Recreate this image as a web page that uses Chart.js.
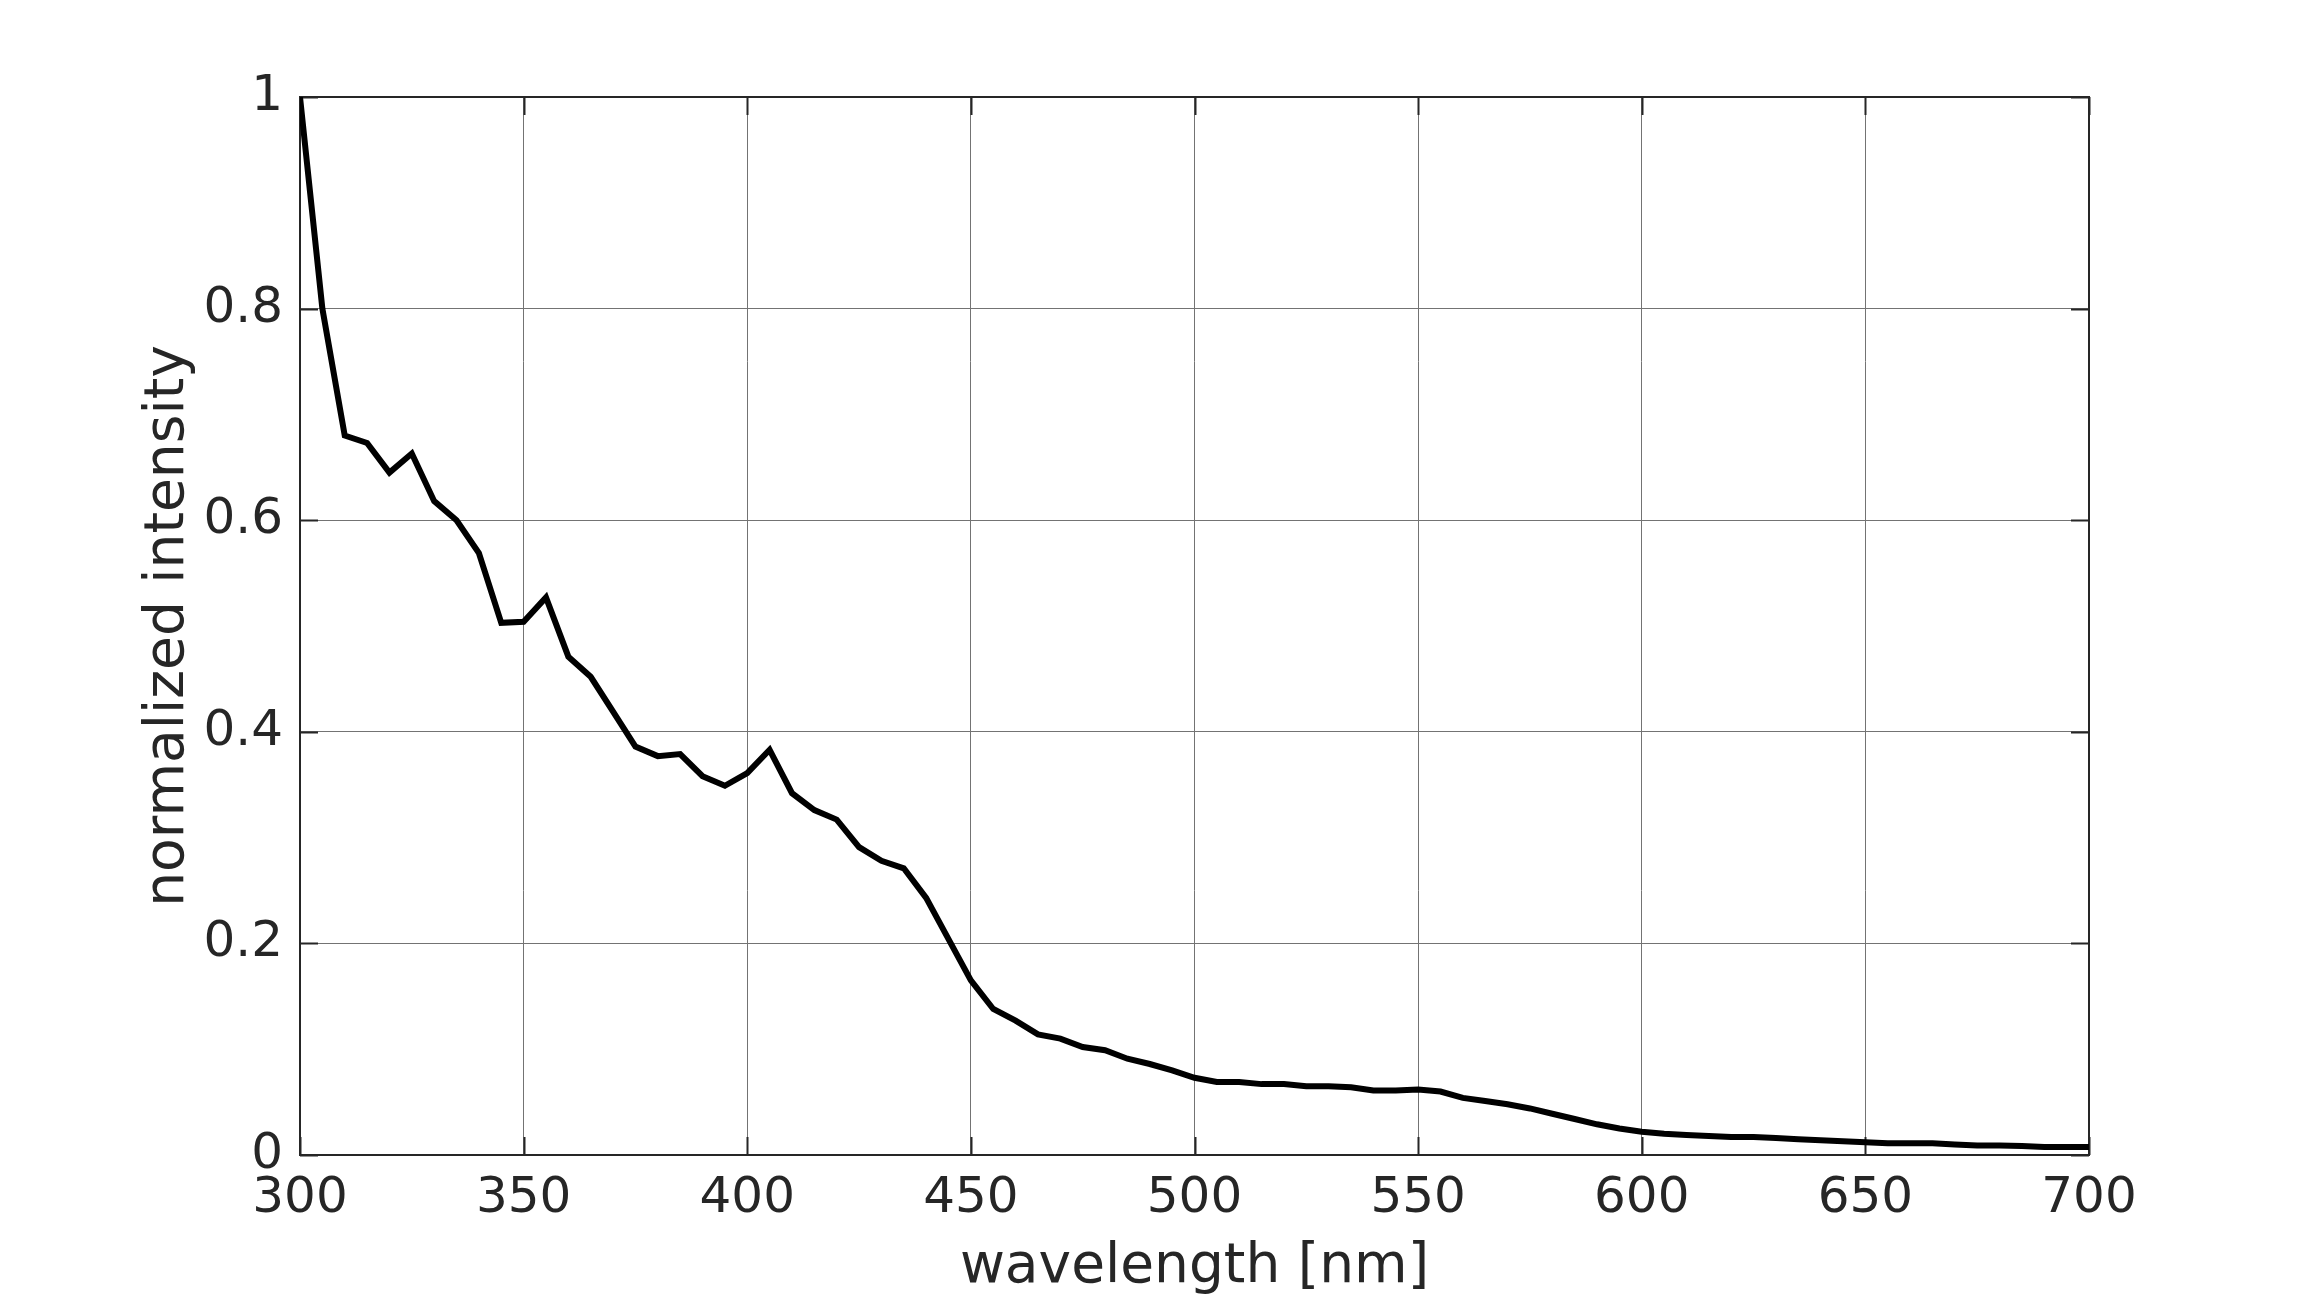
<!DOCTYPE html>
<html>
<head>
<meta charset="utf-8">
<script src="https://cdn.jsdelivr.net/npm/chart.js@4.4.1/dist/chart.umd.min.js"></script>
<style>
  html, body { margin: 0; padding: 0; background: #ffffff; }
  #c { display: block; }
</style>
</head>
<body>
<canvas id="c" width="2308" height="1298" style="width:2308px;height:1298px"></canvas>
<script>
// wavelength [nm]
const wavelengths = [
  300, 305, 310, 315, 320, 325, 330, 335, 340, 345,
  350, 355, 360, 365, 370, 375, 380, 385, 390, 395,
  400, 405, 410, 415, 420, 425, 430, 435, 440, 445,
  450, 455, 460, 465, 470, 475, 480, 485, 490, 495,
  500, 505, 510, 515, 520, 525, 530, 535, 540, 545,
  550, 555, 560, 565, 570, 575, 580, 585, 590, 595,
  600, 605, 610, 615, 620, 625, 630, 635, 640, 645,
  650, 655, 660, 665, 670, 675, 680, 685, 690, 695,
  700
];
// normalized intensity
const intensity = [
  1.000, 0.800, 0.680, 0.673, 0.645, 0.663, 0.618, 0.600, 0.569, 0.503,
  0.504, 0.527, 0.471, 0.452, 0.419, 0.386, 0.377, 0.379, 0.358, 0.349,
  0.361, 0.383, 0.342, 0.326, 0.317, 0.291, 0.278, 0.271, 0.243, 0.204,
  0.165, 0.138, 0.127, 0.114, 0.110, 0.102, 0.099, 0.091, 0.086, 0.080,
  0.073, 0.069, 0.069, 0.067, 0.067, 0.065, 0.065, 0.064, 0.061, 0.061,
  0.062, 0.060, 0.054, 0.051, 0.048, 0.044, 0.039, 0.034, 0.029, 0.025,
  0.022, 0.020, 0.019, 0.018, 0.017, 0.017, 0.016, 0.015, 0.014, 0.013,
  0.012, 0.011, 0.011, 0.011, 0.010, 0.009, 0.009, 0.0085, 0.0075, 0.0075,
  0.0075
];
const xTickValues = [300, 350, 400, 450, 500, 550, 600, 650, 700];
const yTickValues = [0, 0.2, 0.4, 0.6, 0.8, 1];
const yTickLabels = ['0', '0.2', '0.4', '0.6', '0.8', '1'];
const xTitle = 'wavelength [nm]';
const yTitle = 'normalized intensity';

const points = wavelengths.map((w, i) => ({ x: w, y: intensity[i] }));

const FONT = "'DejaVu Sans', 'Liberation Sans', sans-serif";
const TEXT = '#262626';

const boxPlugin = {
  id: 'matlabBox',
  beforeDatasetsDraw(chart) {
    const { ctx, chartArea: a, scales } = chart;
    ctx.save();
    ctx.strokeStyle = TEXT;
    ctx.lineWidth = 2;
    const tl = 18;
    ctx.beginPath();
    xTickValues.forEach(v => {
      const px = Math.round(scales.x.getPixelForValue(v)) + 0.5;
      ctx.moveTo(px, a.bottom); ctx.lineTo(px, a.bottom - tl);
      ctx.moveTo(px, a.top); ctx.lineTo(px, a.top + tl);
    });
    yTickValues.forEach(v => {
      const py = Math.round(scales.y.getPixelForValue(v)) + 0.5;
      ctx.moveTo(a.left, py); ctx.lineTo(a.left + tl, py);
      ctx.moveTo(a.right, py); ctx.lineTo(a.right - tl, py);
    });
    ctx.stroke();
    ctx.strokeRect(a.left, a.top, a.right - a.left, a.bottom - a.top);
    ctx.restore();
  }
};

new Chart(document.getElementById('c'), {
  type: 'line',
  data: {
    datasets: [{
      data: points,
      borderColor: '#000000',
      borderWidth: 6,
      pointRadius: 0,
      tension: 0,
      fill: false,
      borderJoinStyle: 'miter'
    }]
  },
  options: {
    responsive: false,
    animation: false,
    devicePixelRatio: 1,
    layout: { padding: { left: 0, top: 97, right: 219, bottom: 0 } },
    plugins: { legend: { display: false }, tooltip: { enabled: false } },
    scales: {
      x: {
        type: 'linear',
        min: 300, max: 700,
        afterBuildTicks(scale) { scale.ticks = xTickValues.map(v => ({ value: v })); },
        afterFit(scale) { scale.height = 143; },
        ticks: {
          color: TEXT, font: { family: FONT, size: 50 }, padding: 14,
          maxRotation: 0, autoSkip: false,
          callback: (v) => String(v)
        },
        grid: { color: '#737373', lineWidth: 1, drawTicks: false },
        border: { display: false },
        title: {
          display: true, text: xTitle, color: TEXT,
          font: { family: FONT, size: 55 }, padding: { top: 0, bottom: -3 }
        }
      },
      y: {
        type: 'linear',
        min: 0, max: 1,
        afterBuildTicks(scale) { scale.ticks = yTickValues.map(v => ({ value: v })); },
        afterFit(scale) { scale.width = 300; },
        ticks: {
          color: TEXT, font: { family: FONT, size: 50 }, padding: 17,
          callback: (v) => yTickLabels[yTickValues.indexOf(v)] ?? String(v)
        },
        grid: { color: '#737373', lineWidth: 1, drawTicks: false },
        border: { display: false },
        title: {
          display: true, text: yTitle, color: TEXT,
          font: { family: FONT, size: 55 }, padding: { top: 136, bottom: 0 }
        }
      }
    }
  },
  plugins: [boxPlugin]
});
</script>
</body>
</html>
